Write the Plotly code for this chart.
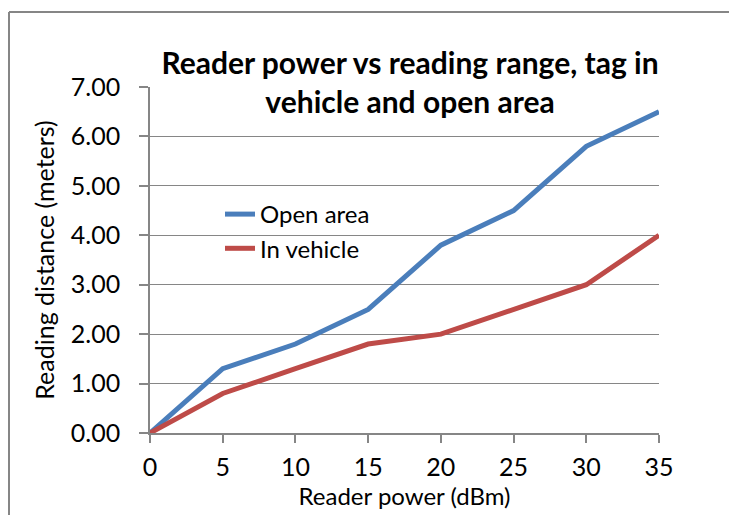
import plotly.graph_objects as go

power_dbm = [0, 5, 10, 15, 20, 25, 30, 35]
open_area = [0.0, 1.3, 1.8, 2.5, 3.8, 4.5, 5.8, 6.5]
in_vehicle = [0.0, 0.8, 1.3, 1.8, 2.0, 2.5, 3.0, 4.0]
series_names = ["Open area", "In vehicle"]
y_ticks = [0, 1, 2, 3, 4, 5, 6, 7]
x_ticks = [0, 5, 10, 15, 20, 25, 30, 35]

FONT = "Lato"
GRID = "#868686"

fig = go.Figure()
fig.add_trace(go.Scatter(x=power_dbm, y=open_area, mode="lines", name=series_names[0],
                         line=dict(color="#4A7EBB", width=5)))
fig.add_trace(go.Scatter(x=power_dbm, y=in_vehicle, mode="lines", name=series_names[1],
                         line=dict(color="#BE4B48", width=5)))

L, R, T, B = 150, 70, 87, 82
W, H = 729, 515
pw = W - L - R
ph = H - T - B

def px_x(p):
    return (p - L) / pw

def px_y(p):
    return (H - B - p) / ph

fig.update_layout(
    width=W, height=H,
    margin=dict(l=L, r=R, t=T, b=B, autoexpand=False),
    paper_bgcolor="white", plot_bgcolor="white",
    font=dict(family=FONT, size=24, color="black"),
    title=dict(text="<b>Reader power vs reading range, tag in<br>vehicle and open area</b>",
               font=dict(family=FONT, size=30, color="black"),
               x=410 / W, xanchor="center", xref="container",
               y=1 - 74 / H, yanchor="top", yref="container"),
    showlegend=True,
    legend=dict(x=px_x(220), y=px_y(192), xanchor="left", yanchor="top",
                bgcolor="rgba(0,0,0,0)", font=dict(family=FONT, size=24),
                tracegroupgap=0),
    xaxis=dict(range=[0, 35], tickvals=x_ticks, showgrid=False, zeroline=False,
               showline=True, linecolor=GRID, linewidth=1.5,
               ticks="outside", ticklen=8, tickcolor=GRID, tickwidth=1.5,
               tickfont=dict(family=FONT, size=25), ticklabelstandoff=3,
               title=dict(text="Reader power (dBm)", font=dict(family=FONT, size=24), standoff=4)),
    yaxis=dict(range=[0, 7], tickvals=y_ticks, tickformat=".2f",
               showgrid=True, gridcolor=GRID, gridwidth=1.2, zeroline=False,
               showline=True, linecolor=GRID, linewidth=1.5,
               ticks="outside", ticklen=9, tickcolor=GRID, tickwidth=1.5,
               tickfont=dict(family=FONT, size=25), ticklabelstandoff=14,
               title=dict(text="Reading distance (meters)", font=dict(family=FONT, size=25), standoff=9)),
)

# chart-area frame: only the top and left edges fall inside the picture
fig.add_shape(type="line", xref="paper", yref="paper",
              x0=px_x(9), x1=px_x(1000), y0=px_y(12), y1=px_y(12),
              line=dict(color=GRID, width=2), layer="below")
fig.add_shape(type="line", xref="paper", yref="paper",
              x0=px_x(9), x1=px_x(9), y0=px_y(12), y1=px_y(800),
              line=dict(color=GRID, width=2), layer="below")

fig.write_html("out.html", config={"displayModeBar": False},
               post_script=("document.body.style.margin='0';"
                            "document.body.style.overflow='hidden';"
                            "document.documentElement.style.overflow='hidden';"))
